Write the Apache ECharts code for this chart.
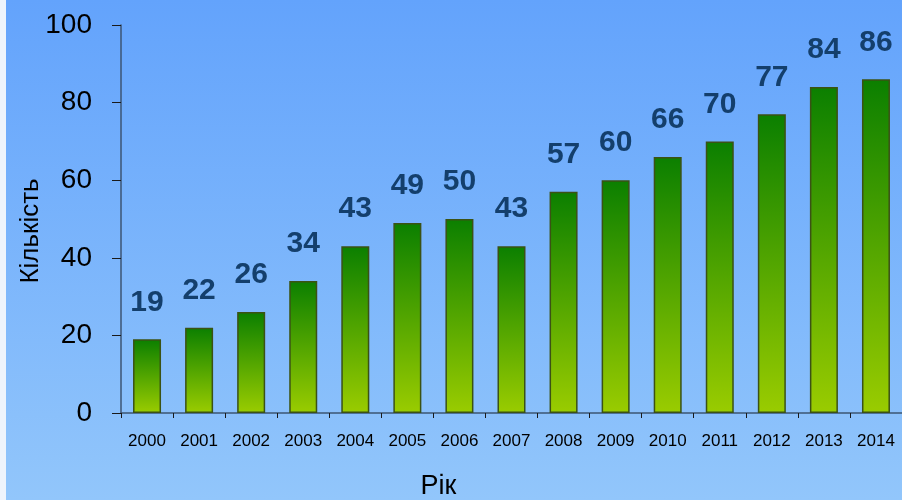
<!DOCTYPE html>
<html>
<head>
<meta charset="utf-8">
<script src="https://cdn.jsdelivr.net/npm/echarts@6/dist/echarts.min.js"></script>
<style>
  html, body { margin: 0; padding: 0; background: #eef4fc; }
  #chart { position: absolute; left: 6px; top: 0; width: 896px; height: 500px; }
</style>
</head>
<body>
<div id="chart"></div>
<script>
  const years = ['2000', '2001', '2002', '2003', '2004', '2005', '2006', '2007',
    '2008', '2009', '2010', '2011', '2012', '2013', '2014'];
  const counts = [19, 22, 26, 34, 43, 49, 50, 43, 57, 60, 66, 70, 77, 84, 86];
  const yTicks = { min: 0, max: 100, interval: 20 };

  const myChart = echarts.init(document.getElementById('chart'));
  const option = {
    backgroundColor: new echarts.graphic.LinearGradient(0, 0, 0, 1, [
      { offset: 0, color: '#63a3fc' },
      { offset: 1, color: '#92c6fb' }
    ]),
    textStyle: { fontFamily: 'Liberation Sans, Arial, sans-serif' },
    grid: { left: 115, right: 0, top: 25, bottom: 87, outerBoundsMode: 'none', containLabel: false },
    xAxis: {
      type: 'category',
      data: years,
      name: 'Рік',
      nameLocation: 'middle',
      nameGap: 60,
      nameMoveOverlap: false,
      nameTextStyle: { fontSize: 27, color: '#000', padding: [0, 146, 0, 0] },
      axisLine: { lineStyle: { color: '#3d5573', width: 1.5 } },
      axisTick: { show: true, length: 5, lineStyle: { color: '#1a1a1a' } },
      axisLabel: { fontSize: 17, color: '#000', margin: 20 }
    },
    yAxis: {
      type: 'value',
      min: yTicks.min,
      max: yTicks.max,
      interval: yTicks.interval,
      name: 'Кількість',
      nameLocation: 'middle',
      nameGap: 77,
      nameMoveOverlap: false,
      nameTextStyle: { fontSize: 26, color: '#000', padding: [0, 24, 0, 0] },
      axisLine: { show: true, lineStyle: { color: '#3d5573', width: 1.5 } },
      axisTick: { show: true, length: 9, lineStyle: { color: '#1a1a1a' } },
      axisLabel: { fontSize: 28, color: '#000', margin: 29 },
      splitLine: { show: false }
    },
    series: [{
      type: 'bar',
      data: counts,
      barWidth: 28,
      itemStyle: {
        color: new echarts.graphic.LinearGradient(0, 0, 0, 1, [
          { offset: 0, color: '#0b7f00' },
          { offset: 1, color: '#9acc00' }
        ]),
        borderColor: '#3b5214',
        borderWidth: 1.5
      },
      label: {
        show: true,
        position: 'top',
        distance: 22,
        fontSize: 30,
        fontWeight: 'bold',
        color: '#143f6c'
      }
    }]
  };
  myChart.setOption(option);
</script>
</body>
</html>
